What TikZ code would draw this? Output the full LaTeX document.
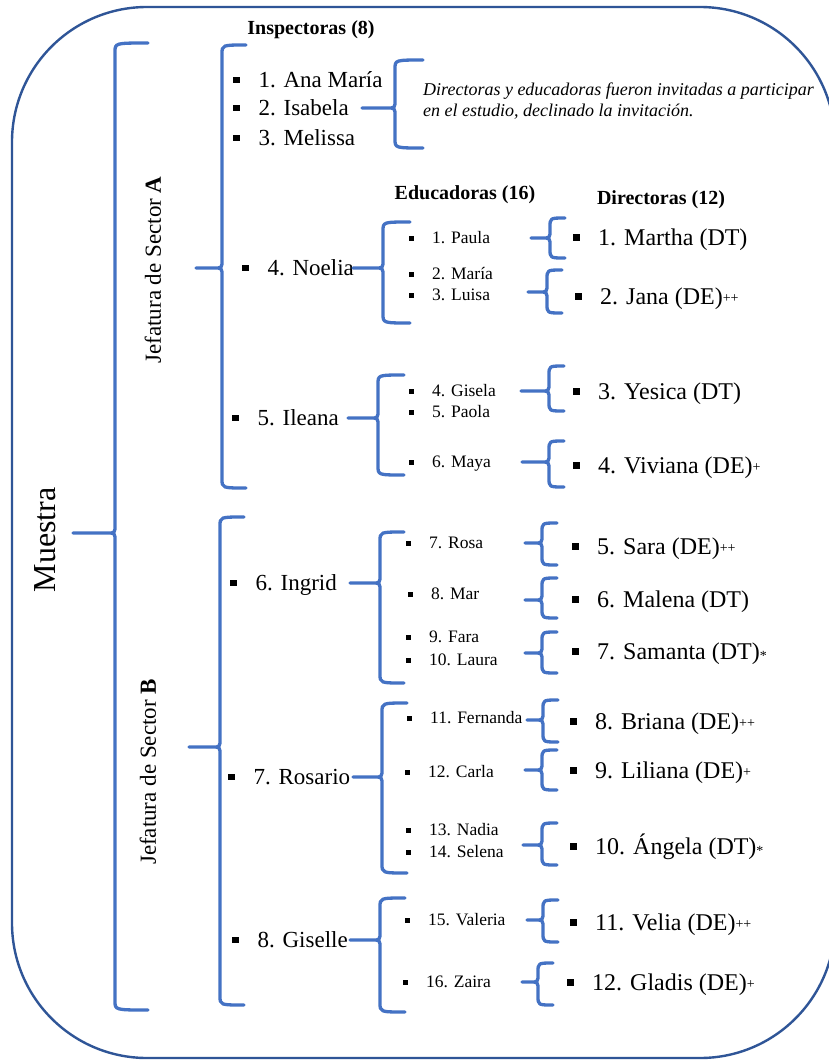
\documentclass[tikz,border=0pt]{standalone}
\usepackage{fontspec}
\setmainfont{Liberation Serif}
\usetikzlibrary{calc}

\definecolor{bracecol}{HTML}{4472C4}
\definecolor{framecol}{HTML}{2F5597}

% square bullets: size, raise
\newcommand\sqb[2]{\rule[#2]{#1}{#1}}
\newcommand\bulI{\sqb{6.5pt}{4.5pt}\hspace{19pt}}
\newcommand\bulE{\sqb{5pt}{3pt}\hspace{18pt}}
\newcommand\bulD{\sqb{7pt}{4.5pt}\hspace{18pt}}
% small marks after a director's code
\newcommand\sfx[2]{\raisebox{#1}{\fontsize{14}{14}\selectfont #2}}

% curly brace opening to the right
% #1 point giving the tip height, #2 x where the tip starts,
% #3 spine x, #4 top y, #5 bottom y, #6 x where the arms end
\newcommand\brc[6]{%
  \draw[brc] let \p1 = (#1) in
    (#6pt,-#4pt) .. controls (#3pt,-#4pt) .. (#3pt,-#4pt-9pt)
    -- (#3pt,\y1+8pt) .. controls (#3pt,\y1) .. (#3pt-8pt,\y1)
    -- (#2pt,\y1)
    (#3pt-8pt,\y1) .. controls (#3pt,\y1) .. (#3pt,\y1-8pt)
    -- (#3pt,-#5pt+9pt) .. controls (#3pt,-#5pt) .. (#6pt,-#5pt);}

\tikzset{
  brc/.style={draw=bracecol, line width=3.3pt, line cap=round, line join=round},
  frame/.style={draw=framecol, line width=2.4pt, rounded corners=135pt},
  hdr/.style={inner sep=0pt, font=\fontsize{20}{20}\selectfont\bfseries},
  insp/.style={anchor=west, inner sep=0pt, font=\fontsize{23}{23}\selectfont,
    text height=15.2pt, text depth=0pt},
  edu/.style={anchor=west, inner sep=0pt, font=\fontsize{17.5}{17.5}\selectfont,
    text height=11.6pt, text depth=0pt},
  dir/.style={anchor=west, inner sep=0pt, font=\fontsize{24}{24}\selectfont,
    text height=15.9pt, text depth=0pt},
  sector/.style={rotate=90, inner sep=0pt, font=\fontsize{23}{23}\selectfont},
  note/.style={anchor=north west, inner sep=0pt, align=left,
    font=\fontsize{18}{21}\selectfont\itshape},
}

\begin{document}
\begin{tikzpicture}[x=1pt, y=-1pt]
\fill[white] (0,0) rectangle (828,1061);
\useasboundingbox (0,0) rectangle (828,1061);

% outer frame
\draw[frame] (12,7) rectangle (835,1058);

% column headings
\node[hdr] (insph) at (311,30) {Inspectoras (8)};
\node[hdr] (eduh) at (465,195) {Educadoras (16)};
\node[hdr] (dirh) at (661,200) {Directoras (12)};

% sample and sectors
\node[rotate=90, inner sep=0pt, font=\fontsize{32}{32}\selectfont] (muestra) at (45,540) {Muestra};
\node[sector] (secA) at (153,270) {Jefatura de Sector \textbf{A}};
\node[sector] (secB) at (148,772) {Jefatura de Sector \textbf{B}};

% inspectors
\node[insp] (i1) at (233,80) {\bulI 1. Ana María};
\node[insp] (i2) at (233,108) {\bulI 2. Isabela};
\node[insp] (i3) at (233,138) {\bulI 3. Melissa};
\node[insp] (i4) at (242,268) {\bulI 4. Noelia};
\node[insp] (i5) at (232,418) {\bulI 5. Ileana};
\node[insp] (i6) at (230,583) {\bulI 6. Ingrid};
\node[insp] (i7) at (228,777) {\bulI 7. Rosario};
\node[insp] (i8) at (232,940) {\bulI 8. Giselle};

\node[note] (note) at (423,83) {Directoras y educadoras fueron invitadas a participar\\en el estudio, declinado la invitación.};

% educators
\node[edu] (e1) at (409,238) {\bulE 1. Paula};
\node[edu] (e2) at (409,274) {\bulE 2. María};
\node[edu] (e3) at (409,295) {\bulE 3. Luisa};
\node[edu] (e4) at (409,391) {\bulE 4. Gisela};
\node[edu] (e5) at (409,412) {\bulE 5. Paola};
\node[edu] (e6) at (409,462) {\bulE 6. Maya};
\node[edu] (e7) at (406,543) {\bulE 7. Rosa};
\node[edu] (e8) at (408,594) {\bulE 8. Mar};
\node[edu] (e9) at (406,637) {\bulE 9. Fara};
\node[edu] (e10) at (406,660) {\bulE 10. Laura};
\node[edu] (e11) at (407,718) {\bulE 11. Fernanda};
\node[edu] (e12) at (405,772) {\bulE 12. Carla};
\node[edu] (e13) at (406,830) {\bulE 13. Nadia};
\node[edu] (e14) at (406,852) {\bulE 14. Selena};
\node[edu] (e15) at (405,920) {\bulE 15. Valeria};
\node[edu] (e16) at (403,982) {\bulE 16. Zaira};

% directors
\node[dir] (d1) at (573,238) {\bulD 1. Martha (DT)};
\node[dir] (d2) at (575,297) {\bulD 2. Jana (DE)\sfx{2.5pt}{++}};
\node[dir] (d3) at (573,392) {\bulD 3. Yesica (DT)};
\node[dir] (d4) at (573,466) {\bulD 4. Viviana (DE)\sfx{2.5pt}{+}};
\node[dir] (d5) at (572,547) {\bulD 5. Sara (DE)\sfx{2.5pt}{++}};
\node[dir] (d6) at (572,600) {\bulD 6. Malena (DT)};
\node[dir] (d7) at (572,652) {\bulD 7. Samanta (DT)\sfx{-1pt}{*}};
\node[dir] (d8) at (570,722) {\bulD 8. Briana (DE)\sfx{2.5pt}{++}};
\node[dir] (d9) at (570,771) {\bulD 9. Liliana (DE)\sfx{2.5pt}{+}};
\node[dir] (d10) at (570,847) {\bulD 10. Ángela (DT)\sfx{-1pt}{*}};
\node[dir] (d11) at (570,923) {\bulD 11. Velia (DE)\sfx{2.5pt}{++}};
\node[dir] (d12) at (567,983) {\bulD 12. Gladis (DE)\sfx{2.5pt}{+}};

% braces: sample -> sectors -> inspectors
\coordinate (tipM) at (73,533);
\brc{tipM}{73}{115}{43}{1010}{148}
\coordinate (tipA) at (196,268);
\brc{tipA}{196}{222}{45}{488}{246}
\coordinate (tipB) at (189,747);
\brc{tipB}{189}{220}{517}{1005}{244}

% note brace
\brc{i2.east}{362}{395}{60}{148}{423}

% inspectors -> educators
\brc{i4.east}{353}{383}{222}{323}{410}
\brc{i5.east}{348}{378}{375}{475}{404}
\brc{i6.east}{350}{380}{532}{683}{404}
\brc{i7.east}{353}{382}{703}{873}{407}
\brc{i8.east}{350}{380}{898}{1012}{405}

% educators -> directors
\brc{e1.east}{531}{550}{218}{258}{565}
\brc{[yshift=3pt]e3.east}{528}{547}{270}{313}{562}
\brc{e4.east}{521}{549}{366}{411}{564}
\brc{e6.east}{522}{549}{441}{487}{564}
\brc{e7.east}{525}{542}{523}{565}{557}
\brc{[yshift=-6pt]e8.east}{525}{542}{578}{618}{557}
\brc{[yshift=7pt]e10.east}{525}{542}{632}{673}{557}
\brc{[yshift=-2pt]e11.east}{527}{543}{700}{742}{558}
\brc{[yshift=2pt]e12.east}{525}{542}{750}{790}{557}
\brc{[yshift=7pt]e14.east}{523}{542}{823}{865}{557}
\brc{e15.east}{527}{543}{900}{942}{558}
\brc{e16.east}{522}{538}{963}{1005}{553}
\end{tikzpicture}
\end{document}
